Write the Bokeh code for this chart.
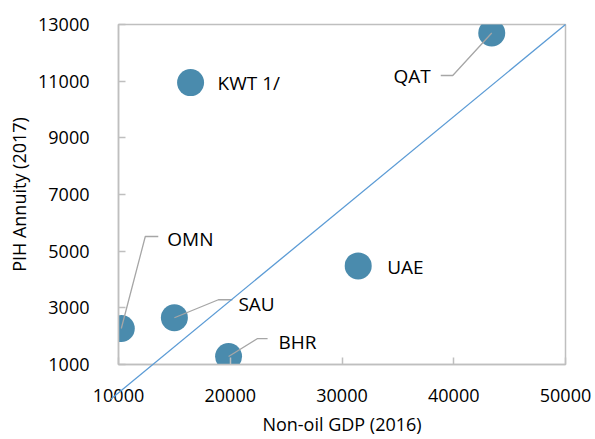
from bokeh.plotting import figure
from bokeh.models import Range1d, FixedTicker, ColumnDataSource
from bokeh.core.properties import value
from bokeh.embed import file_html
from bokeh.resources import INLINE

# ---- data ----
countries = ["KWT 1/", "QAT", "OMN", "SAU", "BHR", "UAE"]
non_oil_gdp = [16450, 43400, 10250, 15000, 19850, 31450]
pih_annuity = [10950, 12700, 2270, 2650, 1280, 4480]
diag_x = [9300, 50000]
diag_y = [-227.5, 13000]
x_ticks = [10000, 20000, 30000, 40000, 50000]
y_ticks = [1000, 3000, 5000, 7000, 9000, 11000, 13000]

# ---- label layout (pixels relative to point centre, y downward) ----
label_dx = [27, -61, 46, 64, 50, 29]
label_dy = [0.5, 42.5, -90, -14, -15, 1]
label_align = ["left", "right", "left", "left", "left", "left"]
# leader: elbow (dx, dy) and end dx; None for no leader
leader = [None, (-39, 42.5, -51), (24, -92, 37), (44, -18, 58), (29, -18, 39), None]

W, H = 595, 439
BL, BR, BT, BB = 118, 30, 24, 75
X0, X1, Y0, Y1 = 10000, 50000, 1000, 13000
sx = (W - BL - BR) / (X1 - X0)
sy = (H - BT - BB) / (Y1 - Y0)

FONT = "Open Sans"
AX = "#BFBFBF"

p = figure(width=W, height=H, output_backend="svg", toolbar_location=None,
           x_range=Range1d(X0, X1), y_range=Range1d(Y0, Y1),
           min_border_left=BL, min_border_right=BR, min_border_top=BT, min_border_bottom=BB)
p.background_fill_color = "white"
p.border_fill_color = "white"
p.outline_line_color = AX
p.outline_line_width = 1.5
p.grid.visible = False

for ax in (p.xaxis[0], p.yaxis[0]):
    ax.axis_line_color = AX
    ax.axis_line_width = 1.5
    ax.major_tick_line_color = AX
    ax.major_tick_line_width = 1.5
    ax.major_tick_in = 7
    ax.major_tick_out = 0
    ax.minor_tick_line_color = None
    ax.major_label_text_font = FONT
    ax.major_label_text_font_size = "18px"
    ax.major_label_text_color = "black"
    ax.axis_label_text_font = FONT
    ax.axis_label_text_font_size = "18px"
    ax.axis_label_text_font_style = "normal"
    ax.axis_label_text_color = "black"

p.xaxis[0].ticker = FixedTicker(ticks=x_ticks)
p.yaxis[0].ticker = FixedTicker(ticks=y_ticks)
p.xaxis[0].axis_label = "Non-oil GDP (2016)"
p.yaxis[0].axis_label = "PIH Annuity (2017)"
p.xaxis[0].major_label_standoff = 24
p.yaxis[0].major_label_standoff = 29
p.xaxis[0].axis_label_standoff = 7
p.yaxis[0].axis_label_standoff = 4

# diagonal reference line, drawn at overlay level so it is not clipped to the frame
diag = p.line(diag_x, diag_y, line_color="#5B9BD5", line_width=1.3)
diag.level = "overlay"

p.scatter(non_oil_gdp, pih_annuity, size=27, fill_color="#4A8BAD", line_color=None)

# leaders
lx, ly = [], []
for x, y, ld in zip(non_oil_gdp, pih_annuity, leader):
    if ld is None:
        continue
    ex, ey, hx = ld
    lx.append([x, x + ex / sx, x + hx / sx])
    ly.append([y, y - ey / sy, y - ey / sy])
p.multi_line(lx, ly, line_color="#A6A6A6", line_width=1.3)

tx = [x + dx / sx for x, dx in zip(non_oil_gdp, label_dx)]
ty = [y - dy / sy for y, dy in zip(pih_annuity, label_dy)]
src = ColumnDataSource(dict(x=tx, y=ty, t=countries, a=label_align))
p.text("x", "y", text="t", text_align="a", source=src, text_baseline="alphabetic",
       text_font=value(FONT), text_font_size="19px", text_color="black")

open("out.html", "w").write(file_html(p, INLINE))
